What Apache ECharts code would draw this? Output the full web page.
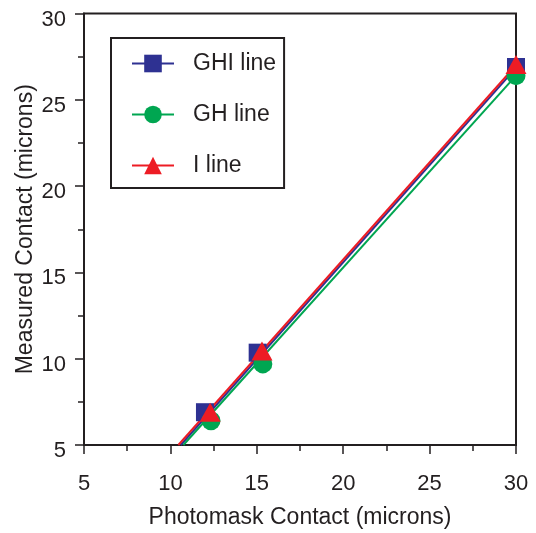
<!DOCTYPE html>
<html><head><meta charset="utf-8">
<script src="https://cdn.jsdelivr.net/npm/echarts@6/dist/echarts.min.js"></script>
<style>html,body{margin:0;padding:0;background:#fff}#c{width:536px;height:533px}</style>
</head><body><div id="c"></div>
<script>
// Measured points
const ghiX = [12.0, 15.05, 30.0];
const ghiY = [6.9, 10.35, 26.9];
const ghX = [12.35, 15.35, 30.0];
const ghY = [6.4, 9.7, 26.4];
const iX = [12.3, 15.3, 30.0];
const iY = [6.9, 10.45, 27.05];
// Fitted lines (endpoints)
const ghiFitX = [10.6, 30.0];
const ghiFitY = [5.0, 26.85];
const ghFitX = [10.75, 30.0];
const ghFitY = [5.0, 26.4];
const iFitX = [10.46, 30.0];
const iFitY = [5.0, 27.0];
const xTicks = [5, 10, 15, 20, 25, 30];
const yTicks = [5, 10, 15, 20, 25, 30];
const names = ['GHI line', 'GH line', 'I line'];

const BLUE = '#2e3192', GREEN = '#00a651', RED = '#ed1c24', INK = '#231f20';
const FONT = 'Liberation Sans, Arial, sans-serif';
const zip = (a, b) => a.map((v, i) => [v, b[i]]);

const chart = echarts.init(document.getElementById('c'), null, {renderer: 'canvas'});
const axisCommon = {
  type: 'value', min: xTicks[0], max: xTicks[xTicks.length - 1], interval: 5,
  axisLine: {show: true, onZero: false, lineStyle: {color: INK, width: 2}},
  axisTick: {show: true, inside: false, length: 9, lineStyle: {color: INK, width: 1.5}},
  minorTick: {show: true, splitNumber: 2, length: 6, lineStyle: {color: INK, width: 1.5}},
  splitLine: {show: false},
  nameLocation: 'middle',
  nameMoveOverlap: false,
  nameTextStyle: {fontFamily: FONT, fontSize: 23, color: INK}
};
chart.setOption({
  animation: false,
  backgroundColor: '#fff',
  grid: {left: 84, right: 20, top: 13.5, bottom: 88, show: true, borderColor: INK, borderWidth: 2,
    backgroundColor: 'transparent', containLabel: false, outerBoundsMode: 'none'},
  legend: {
    data: names, orient: 'vertical', left: 111, top: 38,
    padding: [14, 8, 11, 20], itemWidth: 42, itemHeight: 22, itemGap: 28,
    borderColor: INK, borderWidth: 2,
    textStyle: {fontFamily: FONT, fontSize: 23, color: INK, padding: [0, 0, 0, 14]}
  },
  xAxis: Object.assign({}, axisCommon, {
    name: 'Photomask Contact (microns)', nameGap: 61,
    axisLabel: {fontFamily: FONT, fontSize: 22, color: INK, margin: 28,
      formatter: v => xTicks.includes(v) ? String(v) : ''}
  }),
  yAxis: Object.assign({}, axisCommon, {
    min: yTicks[0], max: yTicks[yTicks.length - 1],
    name: 'Measured Contact (microns)', nameGap: 47, nameRotate: 90,
    axisLabel: {fontFamily: FONT, fontSize: 22, color: INK, margin: 18, verticalAlign: 'top', lineHeight: 12,
      formatter: v => yTicks.includes(v) ? String(v) : ''}
  }),
  series: [
    {name: names[0], type: 'line', data: zip(ghiFitX, ghiFitY), showSymbol: false, symbol: 'rect', z: 2,
      color: BLUE, lineStyle: {color: BLUE, width: 2}, itemStyle: {color: BLUE}},
    {name: names[1], type: 'line', data: zip(ghFitX, ghFitY), showSymbol: false, symbol: 'circle', z: 2,
      color: GREEN, lineStyle: {color: GREEN, width: 2}, itemStyle: {color: GREEN}},
    {name: names[2], type: 'line', data: zip(iFitX, iFitY), showSymbol: false, symbol: 'triangle', z: 2,
      color: RED, lineStyle: {color: RED, width: 2}, itemStyle: {color: RED}},
    {name: names[0], type: 'scatter', data: zip(ghiX, ghiY), symbol: 'rect', symbolSize: 18, z: 3,
      itemStyle: {color: BLUE, opacity: 1}},
    {name: names[1], type: 'scatter', data: zip(ghX, ghY), symbol: 'circle', symbolSize: 19, z: 4,
      itemStyle: {color: GREEN, opacity: 1}},
    {name: names[2], type: 'scatter', data: zip(iX, iY), symbol: 'triangle', symbolSize: [21, 19], z: 5,
      itemStyle: {color: RED, opacity: 1}}
  ]
});
</script></body></html>
